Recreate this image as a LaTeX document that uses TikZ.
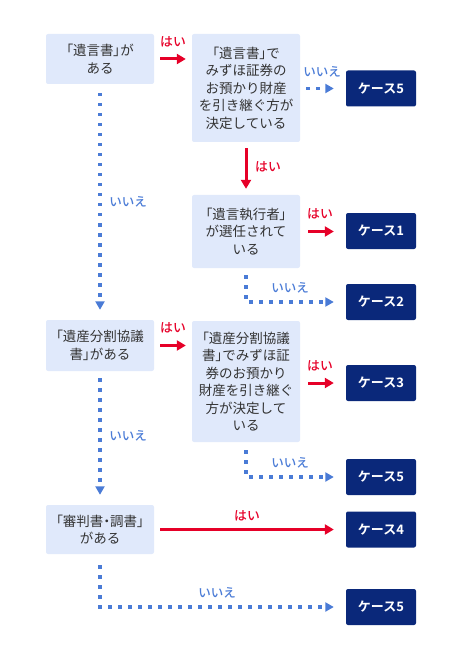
\documentclass[tikz,border=0pt]{standalone}
\usepackage{fontspec}
\setmainfont{Noto Sans CJK JP}[BoldFont={Noto Sans CJK JP Bold}]
\newfontfamily\medfont{Noto Sans CJK JP Medium}
\usepackage{tikz}
\usetikzlibrary{arrows.meta,positioning,calc}
\definecolor{qBlue}   {RGB}{224, 233, 251}
\definecolor{caseNavy}{RGB}{10,  40, 122}
\definecolor{yesRed}  {RGB}{230,  0,  40}
\definecolor{noBlue}  {RGB}{74, 123, 214}
\definecolor{txtGray} {RGB}{51,  51,  51}
% narrow brackets
\newcommand{\pl}[1]{{\addfontfeature{RawFeature=+palt}#1}}

\begin{document}
\begin{tikzpicture}[x=1pt,y=-1pt,
        q/.style={rectangle,rounded corners=2pt,fill=qBlue,text=txtGray,
                  minimum width=108pt,inner sep=0pt,align=center,
                  font=\fontsize{13.5}{17.5}\selectfont},
        cs/.style={rectangle,rounded corners=2pt,fill=caseNavy,text=white,
                   minimum width=70pt,minimum height=36pt,inner sep=0pt,
                   font=\bfseries\fontsize{13}{15}\selectfont},
        yes/.style={draw=yesRed,line width=3pt,
                    -{Triangle[length=9pt,width=10pt]}},
        no/.style={draw=noBlue,line width=3.3pt,
                   dash pattern=on 3.3pt off 6.7pt,
                   -{Triangle[length=8.5pt,width=9pt]}},
        ylab/.style={text=yesRed,font=\medfont\fontsize{12.8}{14}\selectfont},
        nlab/.style={text=noBlue,font=\medfont\fontsize{12.5}{14}\selectfont}]

        \useasboundingbox (0,0) rectangle (462,660);

        % questions
        \node[q,minimum height=50pt]  (will)  at (100,59)    {\pl{「}遺言書\pl{」}が\\ある};
        \node[q,minimum height=108pt] (wmiz)  at (246,88)    {\pl{「}遺言書\pl{」}で\\みずほ証券の\\お預かり財産\\を引き継ぐ方が\\決定している};
        \node[q,minimum height=73pt]  (exec)  at (246,231.5) {\pl{「}遺言執行者\pl{」}\\が選任されて\\いる};
        \node[q,minimum height=51pt]  (div)   at (100,345.5) {\pl{「}遺産分割協議\\書\pl{」}がある};
        \node[q,minimum height=121pt] (dmiz)  at (246,381.5) {\pl{「}遺産分割協議\\書\pl{」}でみずほ証\\券のお預かり\\財産を引き継ぐ\\方が決定して\\いる};
        \node[q,minimum height=49pt]  (court) at (100,529.5) {\pl{「}審判書\pl{・}調書\pl{」}\\がある};

        % cases
        \node[cs] (c5a) at (381,88.5) {ケース5};
        \node[cs] (c1)  at (381,231)  {ケース1};
        \node[cs] (c2)  at (381,302)  {ケース2};
        \node[cs] (c3)  at (381,383)  {ケース3};
        \node[cs] (c5b) at (381,477)  {ケース5};
        \node[cs] (c4)  at (381,529.5){ケース4};
        \node[cs] (c5c) at (381,607)  {ケース5};

        % はい
        \draw[yes,shorten <=6pt,shorten >=6pt] (will.east) -- (will.east -| wmiz.west);
        \draw[yes,shorten <=6pt,shorten >=6pt] (wmiz.south) -- (exec.north);
        \draw[yes,shorten <=8pt,shorten >=12pt] (exec.east) -- (exec.east -| c1.west);
        \draw[yes,shorten <=6pt,shorten >=6pt] (div.east) -- (div.east -| dmiz.west);
        \draw[yes,shorten <=8pt,shorten >=12pt] (c3.west -| dmiz.east) -- (c3.west);
        \draw[yes,shorten <=6pt,shorten >=12pt] (court.east) -- (court.east -| c4.west);

        % いいえ
        \draw[no,shorten <=6pt,shorten >=12pt] (c5a.west -| wmiz.east) -- (c5a.west);
        \draw[no,shorten <=9pt,shorten >=10pt] (will.south) -- (div.north);
        \draw[no,shorten >=12pt] ([yshift=-7pt]exec.south) |- (c2.west);
        \draw[no,shorten <=7pt,shorten >=10pt] (div.south) -- (court.north);
        \draw[no,shorten >=12pt] ([yshift=-8pt]dmiz.south) |- (c5b.west);
        \draw[no,shorten >=12pt] ([yshift=-11pt]court.south) |- (c5c.west);

        % labels
        \node[ylab] (y1) at (173,42)  {はい};
        \node[ylab] (y2) at (268,167) {はい};
        \node[ylab] (y3) at (320,214) {はい};
        \node[ylab] (y4) at (173,328) {はい};
        \node[ylab] (y5) at (320,366) {はい};
        \node[ylab] (y6) at (247,516) {はい};
        \node[nlab] (n1) at (322,72)  {いいえ};
        \node[nlab] (n2) at (128,202) {いいえ};
        \node[nlab] (n3) at (290,288) {いいえ};
        \node[nlab] (n4) at (128,436) {いいえ};
        \node[nlab] (n5) at (290,463) {いいえ};
        \node[nlab] (n6) at (217,593) {いいえ};
\end{tikzpicture}
\end{document}
